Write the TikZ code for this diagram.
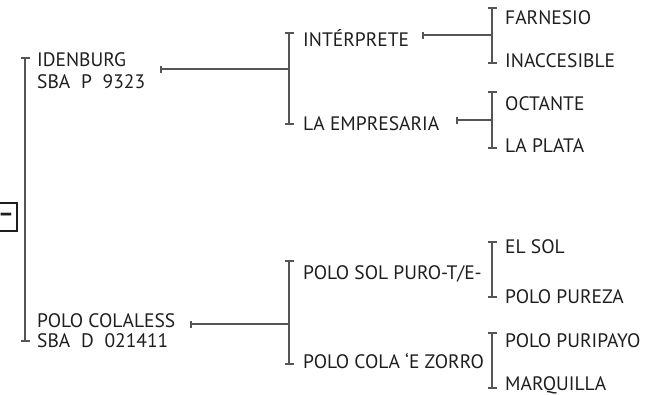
\documentclass[tikz,border=0pt]{standalone}
\usepackage{fontspec}
\setmainfont{PT Sans}
\usetikzlibrary{arrows.meta}
\definecolor{ink}{HTML}{1E1E1E}
\definecolor{rule}{HTML}{555555}

\begin{document}
\begin{tikzpicture}[x=1pt, y=-1pt,
		item/.style={anchor=base west, inner sep=0pt, text=ink, font=\fontsize{19.5}{22}\selectfont},
		fork/.style={draw=rule, line width=2pt, {Bar[width=9pt]}-{Bar[width=9pt]}},
		link/.style={draw=rule, line width=1.6pt, {Bar[width=7pt]}-}]
		
		\useasboundingbox (0,0) rectangle (662,394);
		
		\node[draw=ink, line width=2pt, minimum width=22pt, minimum height=28pt, inner sep=0pt, text=ink, font=\fontsize{24}{24}\bfseries] (root) at (6,217) {–};
		
		% first level
		\node[item] (idb) at (37,66) {IDENBURG};
		\node[item] (idbcode) at (37,88) {SBA\hspace{.55em}P\hspace{.55em}9323};
		\node[item] (pcl) at (37,327) {POLO COLALESS};
		\node[item] (pclcode) at (37,347) {SBA\hspace{.55em}D\hspace{.55em}021411};
		
		% second level
		\node[item] (intp) at (303,46) {INTÉRPRETE};
		\node[item] (empr) at (303,130) {LA EMPRESARIA};
		\node[item] (psol) at (303,279) {POLO SOL PURO-T/E-};
		\node[item] (pcola) at (303,368) {POLO COLA ‘E ZORRO};
		
		% third level
		\node[item] (farn) at (505,24) {FARNESIO};
		\node[item] (inac) at (505,67) {INACCESIBLE};
		\node[item] (octa) at (505,110) {OCTANTE};
		\node[item] (plata) at (505,152) {LA PLATA};
		\node[item] (elsol) at (505,253) {EL SOL};
		\node[item] (pure) at (505,303) {POLO PUREZA};
		\node[item] (puri) at (505,347) {POLO PURIPAYO};
		\node[item] (marq) at (505,390) {MARQUILLA};
		
		% brackets
		\coordinate (m0) at (25,57);  \coordinate (m1) at (25,342);
		\coordinate (a0) at (289,32); \coordinate (a1) at (289,125);
		\coordinate (b0) at (289,260); \coordinate (b1) at (289,365);
		\coordinate (c0) at (492,7);   \coordinate (c1) at (492,64);
		\coordinate (d0) at (492,91);  \coordinate (d1) at (492,149);
		\coordinate (e0) at (492,241); \coordinate (e1) at (492,298);
		\coordinate (f0) at (492,332); \coordinate (f1) at (492,389);
		\draw[fork, line width=2.2pt] (m0) -- (m1);
		\draw[fork] (a0) -- (a1);
		\draw[fork] (b0) -- (b1);
		\draw[fork] (c0) -- (c1);
		\draw[fork] (d0) -- (d1);
		\draw[fork] (e0) -- (e1);
		\draw[fork] (f0) -- (f1);
		
		% joints
		\coordinate (ja) at (289,69);
		\coordinate (jb) at (289,324);
		\coordinate (jc) at (492,35);
		\coordinate (jd) at (492,120);
		\draw[link] ([xshift=15pt]idbcode.east |- ja) -- (ja);
		\draw[link] ([xshift=15pt]pcl.east |- jb) -- (jb);
		\draw[link] ([xshift=13pt]intp.east |- jc) -- (jc);
		\draw[link] ([xshift=17pt]empr.east |- jd) -- (jd);
		
	\end{tikzpicture}
\end{document}
